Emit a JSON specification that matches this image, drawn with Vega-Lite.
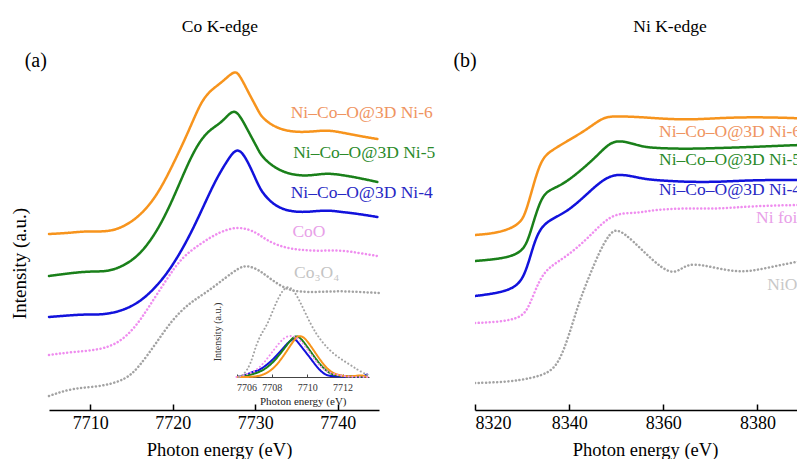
{
"$schema": "https://vega.github.io/schema/vega-lite/v6.json",
"padding": {"left": 10, "top": 17, "right": 0, "bottom": 0},
"background": "white",
"bounds": "flush",
"spacing": 96,
"config": {
  "font": "Liberation Serif",
  "view": {"stroke": null},
  "title": {"font": "Liberation Serif", "fontSize": 17.5, "fontWeight": "normal", "color": "black", "offset": 5},
  "axis": {"labelFont": "Liberation Serif", "titleFont": "Liberation Serif", "titleFontWeight": "normal", "grid": false, "labelColor": "black", "titleColor": "black", "domainColor": "black", "tickColor": "black"},
  "text": {"font": "Liberation Serif"}
},
"datasets": {
  "coMain": [
    {"s":"Ni–Co–O@3D Ni-6","E":7705.0,"v":1.76},{"s":"Ni–Co–O@3D Ni-6","E":7707.4,"v":1.77},{"s":"Ni–Co–O@3D Ni-6","E":7709.6,"v":1.79},{"s":"Ni–Co–O@3D Ni-6","E":7711.9,"v":1.78},{"s":"Ni–Co–O@3D Ni-6","E":7713.8,"v":1.82},{"s":"Ni–Co–O@3D Ni-6","E":7715.9,"v":1.93},{"s":"Ni–Co–O@3D Ni-6","E":7718.0,"v":2.13},{"s":"Ni–Co–O@3D Ni-6","E":7719.9,"v":2.43},{"s":"Ni–Co–O@3D Ni-6","E":7722.0,"v":2.80},{"s":"Ni–Co–O@3D Ni-6","E":7723.5,"v":3.10},{"s":"Ni–Co–O@3D Ni-6","E":7724.8,"v":3.21},{"s":"Ni–Co–O@3D Ni-6","E":7726.0,"v":3.28},{"s":"Ni–Co–O@3D Ni-6","E":7727.4,"v":3.39},{"s":"Ni–Co–O@3D Ni-6","E":7728.0,"v":3.37},{"s":"Ni–Co–O@3D Ni-6","E":7729.2,"v":3.17},{"s":"Ni–Co–O@3D Ni-6","E":7730.2,"v":3.02},{"s":"Ni–Co–O@3D Ni-6","E":7730.8,"v":2.92},{"s":"Ni–Co–O@3D Ni-6","E":7732.5,"v":2.82},{"s":"Ni–Co–O@3D Ni-6","E":7734.5,"v":2.78},{"s":"Ni–Co–O@3D Ni-6","E":7736.5,"v":2.78},{"s":"Ni–Co–O@3D Ni-6","E":7738.6,"v":2.80},{"s":"Ni–Co–O@3D Ni-6","E":7740.2,"v":2.78},{"s":"Ni–Co–O@3D Ni-6","E":7742.6,"v":2.74},{"s":"Ni–Co–O@3D Ni-6","E":7744.8,"v":2.71},
    {"s":"Ni–Co–O@3D Ni-5","E":7705.0,"v":1.34},{"s":"Ni–Co–O@3D Ni-5","E":7709.5,"v":1.39},{"s":"Ni–Co–O@3D Ni-5","E":7711.9,"v":1.38},{"s":"Ni–Co–O@3D Ni-5","E":7713.8,"v":1.43},{"s":"Ni–Co–O@3D Ni-5","E":7715.9,"v":1.54},{"s":"Ni–Co–O@3D Ni-5","E":7718.0,"v":1.77},{"s":"Ni–Co–O@3D Ni-5","E":7719.9,"v":2.08},{"s":"Ni–Co–O@3D Ni-5","E":7722.0,"v":2.50},{"s":"Ni–Co–O@3D Ni-5","E":7723.5,"v":2.72},{"s":"Ni–Co–O@3D Ni-5","E":7724.8,"v":2.82},{"s":"Ni–Co–O@3D Ni-5","E":7726.0,"v":2.88},{"s":"Ni–Co–O@3D Ni-5","E":7727.2,"v":3.00},{"s":"Ni–Co–O@3D Ni-5","E":7728.0,"v":2.97},{"s":"Ni–Co–O@3D Ni-5","E":7729.2,"v":2.78},{"s":"Ni–Co–O@3D Ni-5","E":7730.2,"v":2.63},{"s":"Ni–Co–O@3D Ni-5","E":7730.8,"v":2.53},{"s":"Ni–Co–O@3D Ni-5","E":7732.5,"v":2.41},{"s":"Ni–Co–O@3D Ni-5","E":7734.5,"v":2.35},{"s":"Ni–Co–O@3D Ni-5","E":7736.5,"v":2.34},{"s":"Ni–Co–O@3D Ni-5","E":7738.6,"v":2.37},{"s":"Ni–Co–O@3D Ni-5","E":7740.5,"v":2.35},{"s":"Ni–Co–O@3D Ni-5","E":7742.6,"v":2.32},{"s":"Ni–Co–O@3D Ni-5","E":7744.8,"v":2.28},
    {"s":"Ni–Co–O@3D Ni-4","E":7705.0,"v":0.93},{"s":"Ni–Co–O@3D Ni-4","E":7709.5,"v":0.96},{"s":"Ni–Co–O@3D Ni-4","E":7711.1,"v":0.95},{"s":"Ni–Co–O@3D Ni-4","E":7713.5,"v":0.98},{"s":"Ni–Co–O@3D Ni-4","E":7715.9,"v":1.07},{"s":"Ni–Co–O@3D Ni-4","E":7718.0,"v":1.23},{"s":"Ni–Co–O@3D Ni-4","E":7719.9,"v":1.43},{"s":"Ni–Co–O@3D Ni-4","E":7722.0,"v":1.73},{"s":"Ni–Co–O@3D Ni-4","E":7723.8,"v":2.05},{"s":"Ni–Co–O@3D Ni-4","E":7725.2,"v":2.30},{"s":"Ni–Co–O@3D Ni-4","E":7726.5,"v":2.48},{"s":"Ni–Co–O@3D Ni-4","E":7727.8,"v":2.64},{"s":"Ni–Co–O@3D Ni-4","E":7728.9,"v":2.52},{"s":"Ni–Co–O@3D Ni-4","E":7730.0,"v":2.32},{"s":"Ni–Co–O@3D Ni-4","E":7730.8,"v":2.17},{"s":"Ni–Co–O@3D Ni-4","E":7732.5,"v":2.03},{"s":"Ni–Co–O@3D Ni-4","E":7734.5,"v":1.98},{"s":"Ni–Co–O@3D Ni-4","E":7736.5,"v":1.98},{"s":"Ni–Co–O@3D Ni-4","E":7738.6,"v":2.00},{"s":"Ni–Co–O@3D Ni-4","E":7740.5,"v":1.98},{"s":"Ni–Co–O@3D Ni-4","E":7742.6,"v":1.96},{"s":"Ni–Co–O@3D Ni-4","E":7744.8,"v":1.93},
    {"s":"CoO","E":7705.0,"v":0.55},{"s":"CoO","E":7707.8,"v":0.58},{"s":"CoO","E":7711.1,"v":0.60},{"s":"CoO","E":7713.5,"v":0.67},{"s":"CoO","E":7715.5,"v":0.83},{"s":"CoO","E":7717.1,"v":1.03},{"s":"CoO","E":7719.2,"v":1.30},{"s":"CoO","E":7721.1,"v":1.53},{"s":"CoO","E":7723.5,"v":1.67},{"s":"CoO","E":7725.6,"v":1.78},{"s":"CoO","E":7728.0,"v":1.84},{"s":"CoO","E":7730.1,"v":1.78},{"s":"CoO","E":7731.3,"v":1.70},{"s":"CoO","E":7733.2,"v":1.63},{"s":"CoO","E":7735.3,"v":1.60},{"s":"CoO","E":7737.7,"v":1.59},{"s":"CoO","E":7740.2,"v":1.60},{"s":"CoO","E":7742.6,"v":1.57},{"s":"CoO","E":7744.8,"v":1.54},
    {"s":"Co₃O₄","E":7705.0,"v":0.14},{"s":"Co₃O₄","E":7707.8,"v":0.22},{"s":"Co₃O₄","E":7711.1,"v":0.23},{"s":"Co₃O₄","E":7714.3,"v":0.30},{"s":"Co₃O₄","E":7715.9,"v":0.43},{"s":"Co₃O₄","E":7718.0,"v":0.67},{"s":"Co₃O₄","E":7719.9,"v":0.90},{"s":"Co₃O₄","E":7722.0,"v":1.07},{"s":"Co₃O₄","E":7724.0,"v":1.17},{"s":"Co₃O₄","E":7726.5,"v":1.33},{"s":"Co₃O₄","E":7728.0,"v":1.42},{"s":"Co₃O₄","E":7729.0,"v":1.45},{"s":"Co₃O₄","E":7730.5,"v":1.40},{"s":"Co₃O₄","E":7732.0,"v":1.30},{"s":"Co₃O₄","E":7733.7,"v":1.21},{"s":"Co₃O₄","E":7735.3,"v":1.18},{"s":"Co₃O₄","E":7737.7,"v":1.18},{"s":"Co₃O₄","E":7740.2,"v":1.19},{"s":"Co₃O₄","E":7742.6,"v":1.18},{"s":"Co₃O₄","E":7745.0,"v":1.17}
  ],
  "coInset": [
    {"s":"Ni–Co–O@3D Ni-4","E":7706.05,"v":0.0},{"s":"Ni–Co–O@3D Ni-4","E":7706.6,"v":0.05},{"s":"Ni–Co–O@3D Ni-4","E":7706.9,"v":0.13},{"s":"Ni–Co–O@3D Ni-4","E":7707.2,"v":0.14},{"s":"Ni–Co–O@3D Ni-4","E":7707.75,"v":0.29},{"s":"Ni–Co–O@3D Ni-4","E":7708.3,"v":0.52},{"s":"Ni–Co–O@3D Ni-4","E":7708.8,"v":0.77},{"s":"Ni–Co–O@3D Ni-4","E":7709.2,"v":0.92},{"s":"Ni–Co–O@3D Ni-4","E":7709.35,"v":0.90},{"s":"Ni–Co–O@3D Ni-4","E":7709.75,"v":0.68},{"s":"Ni–Co–O@3D Ni-4","E":7710.2,"v":0.44},{"s":"Ni–Co–O@3D Ni-4","E":7710.6,"v":0.21},{"s":"Ni–Co–O@3D Ni-4","E":7711.0,"v":0.05},{"s":"Ni–Co–O@3D Ni-4","E":7711.35,"v":0.02},{"s":"Ni–Co–O@3D Ni-4","E":7711.9,"v":0.01},{"s":"Ni–Co–O@3D Ni-4","E":7712.5,"v":0.02},{"s":"Ni–Co–O@3D Ni-4","E":7713.05,"v":-0.01},{"s":"Ni–Co–O@3D Ni-4","E":7713.4,"v":0.06},
    {"s":"Ni–Co–O@3D Ni-5","E":7706.05,"v":0.0},{"s":"Ni–Co–O@3D Ni-5","E":7706.8,"v":0.05},{"s":"Ni–Co–O@3D Ni-5","E":7707.4,"v":0.13},{"s":"Ni–Co–O@3D Ni-5","E":7707.95,"v":0.29},{"s":"Ni–Co–O@3D Ni-5","E":7708.5,"v":0.56},{"s":"Ni–Co–O@3D Ni-5","E":7709.0,"v":0.85},{"s":"Ni–Co–O@3D Ni-5","E":7709.35,"v":1.0},{"s":"Ni–Co–O@3D Ni-5","E":7709.65,"v":0.93},{"s":"Ni–Co–O@3D Ni-5","E":7710.2,"v":0.60},{"s":"Ni–Co–O@3D Ni-5","E":7710.8,"v":0.25},{"s":"Ni–Co–O@3D Ni-5","E":7711.35,"v":0.05},{"s":"Ni–Co–O@3D Ni-5","E":7712.1,"v":0.02},{"s":"Ni–Co–O@3D Ni-5","E":7712.85,"v":0.01},{"s":"Ni–Co–O@3D Ni-5","E":7713.4,"v":0.01},
    {"s":"Ni–Co–O@3D Ni-6","E":7706.05,"v":0.0},{"s":"Ni–Co–O@3D Ni-6","E":7707.0,"v":0.0},{"s":"Ni–Co–O@3D Ni-6","E":7707.55,"v":0.05},{"s":"Ni–Co–O@3D Ni-6","E":7708.15,"v":0.21},{"s":"Ni–Co–O@3D Ni-6","E":7708.7,"v":0.52},{"s":"Ni–Co–O@3D Ni-6","E":7709.2,"v":0.85},{"s":"Ni–Co–O@3D Ni-6","E":7709.5,"v":1.0},{"s":"Ni–Co–O@3D Ni-6","E":7709.85,"v":0.95},{"s":"Ni–Co–O@3D Ni-6","E":7710.3,"v":0.68},{"s":"Ni–Co–O@3D Ni-6","E":7710.8,"v":0.36},{"s":"Ni–Co–O@3D Ni-6","E":7711.35,"v":0.09},{"s":"Ni–Co–O@3D Ni-6","E":7712.1,"v":0.01},{"s":"Ni–Co–O@3D Ni-6","E":7712.7,"v":0.02},{"s":"Ni–Co–O@3D Ni-6","E":7713.05,"v":0.05},{"s":"Ni–Co–O@3D Ni-6","E":7713.4,"v":0.0},
    {"s":"CoO","E":7706.0,"v":0.0},{"s":"CoO","E":7707.0,"v":0.1},{"s":"CoO","E":7707.6,"v":0.35},{"s":"CoO","E":7708.2,"v":0.7},{"s":"CoO","E":7708.7,"v":0.95},{"s":"CoO","E":7709.1,"v":1.0},{"s":"CoO","E":7709.6,"v":0.9},{"s":"CoO","E":7710.2,"v":0.55},{"s":"CoO","E":7710.8,"v":0.2},{"s":"CoO","E":7711.5,"v":0.05},{"s":"CoO","E":7712.5,"v":0.0},{"s":"CoO","E":7713.4,"v":0.0},
    {"s":"Co₃O₄","E":7706.15,"v":0.0},{"s":"Co₃O₄","E":7706.4,"v":0.05},{"s":"Co₃O₄","E":7706.8,"v":0.29},{"s":"Co₃O₄","E":7707.1,"v":0.76},{"s":"Co₃O₄","E":7707.45,"v":1.07},{"s":"Co₃O₄","E":7707.75,"v":1.24},{"s":"Co₃O₄","E":7708.3,"v":1.85},{"s":"Co₃O₄","E":7708.75,"v":2.15},{"s":"Co₃O₄","E":7709.1,"v":2.15},{"s":"Co₃O₄","E":7709.55,"v":1.85},{"s":"Co₃O₄","E":7710.2,"v":1.24},{"s":"Co₃O₄","E":7710.8,"v":0.84},{"s":"Co₃O₄","E":7711.55,"v":0.52},{"s":"Co₃O₄","E":7712.3,"v":0.33},{"s":"Co₃O₄","E":7712.85,"v":0.17},{"s":"Co₃O₄","E":7713.4,"v":0.05}
  ],
  "labelsA": [
    {"s":"Ni–Co–O@3D Ni-6","E":7734.3,"v":2.97},
    {"s":"Ni–Co–O@3D Ni-5","E":7734.6,"v":2.57},
    {"s":"Ni–Co–O@3D Ni-4","E":7734.3,"v":2.17},
    {"s":"CoO","E":7734.5,"v":1.78},
    {"s":"Co₃O₄","E":7734.7,"v":1.37}
  ],
  "niMain": [
    {"s":"Ni–Co–O@3D Ni-6","E":8320.0,"v":1.75},{"s":"Ni–Co–O@3D Ni-6","E":8325.1,"v":1.77},{"s":"Ni–Co–O@3D Ni-6","E":8329.4,"v":1.85},{"s":"Ni–Co–O@3D Ni-6","E":8330.8,"v":1.97},{"s":"Ni–Co–O@3D Ni-6","E":8332.5,"v":2.27},{"s":"Ni–Co–O@3D Ni-6","E":8334.2,"v":2.52},{"s":"Ni–Co–O@3D Ni-6","E":8336.4,"v":2.60},{"s":"Ni–Co–O@3D Ni-6","E":8340.0,"v":2.70},{"s":"Ni–Co–O@3D Ni-6","E":8343.6,"v":2.80},{"s":"Ni–Co–O@3D Ni-6","E":8347.0,"v":2.92},{"s":"Ni–Co–O@3D Ni-6","E":8349.1,"v":2.94},{"s":"Ni–Co–O@3D Ni-6","E":8354.9,"v":2.93},{"s":"Ni–Co–O@3D Ni-6","E":8357.6,"v":2.92},{"s":"Ni–Co–O@3D Ni-6","E":8364.8,"v":2.90},{"s":"Ni–Co–O@3D Ni-6","E":8371.9,"v":2.92},{"s":"Ni–Co–O@3D Ni-6","E":8378.9,"v":2.93},{"s":"Ni–Co–O@3D Ni-6","E":8388.4,"v":2.92},{"s":"Ni–Co–O@3D Ni-6","E":8390.1,"v":2.91},
    {"s":"Ni–Co–O@3D Ni-5","E":8320.0,"v":1.49},{"s":"Ni–Co–O@3D Ni-5","E":8325.1,"v":1.51},{"s":"Ni–Co–O@3D Ni-5","E":8328.7,"v":1.55},{"s":"Ni–Co–O@3D Ni-5","E":8330.8,"v":1.63},{"s":"Ni–Co–O@3D Ni-5","E":8332.1,"v":1.83},{"s":"Ni–Co–O@3D Ni-5","E":8334.0,"v":2.12},{"s":"Ni–Co–O@3D Ni-5","E":8335.7,"v":2.20},{"s":"Ni–Co–O@3D Ni-5","E":8338.5,"v":2.25},{"s":"Ni–Co–O@3D Ni-5","E":8342.1,"v":2.38},{"s":"Ni–Co–O@3D Ni-5","E":8345.7,"v":2.53},{"s":"Ni–Co–O@3D Ni-5","E":8348.5,"v":2.67},{"s":"Ni–Co–O@3D Ni-5","E":8351.0,"v":2.70},{"s":"Ni–Co–O@3D Ni-5","E":8354.9,"v":2.64},{"s":"Ni–Co–O@3D Ni-5","E":8357.6,"v":2.62},{"s":"Ni–Co–O@3D Ni-5","E":8364.8,"v":2.61},{"s":"Ni–Co–O@3D Ni-5","E":8371.9,"v":2.62},{"s":"Ni–Co–O@3D Ni-5","E":8378.9,"v":2.63},{"s":"Ni–Co–O@3D Ni-5","E":8388.4,"v":2.65},{"s":"Ni–Co–O@3D Ni-5","E":8390.1,"v":2.65},
    {"s":"Ni–Co–O@3D Ni-4","E":8320.0,"v":1.14},{"s":"Ni–Co–O@3D Ni-4","E":8325.1,"v":1.17},{"s":"Ni–Co–O@3D Ni-4","E":8328.9,"v":1.23},{"s":"Ni–Co–O@3D Ni-4","E":8330.8,"v":1.37},{"s":"Ni–Co–O@3D Ni-4","E":8332.5,"v":1.67},{"s":"Ni–Co–O@3D Ni-4","E":8334.2,"v":1.85},{"s":"Ni–Co–O@3D Ni-4","E":8337.2,"v":1.93},{"s":"Ni–Co–O@3D Ni-4","E":8340.0,"v":2.00},{"s":"Ni–Co–O@3D Ni-4","E":8343.6,"v":2.15},{"s":"Ni–Co–O@3D Ni-4","E":8347.0,"v":2.30},{"s":"Ni–Co–O@3D Ni-4","E":8350.2,"v":2.37},{"s":"Ni–Co–O@3D Ni-4","E":8354.9,"v":2.32},{"s":"Ni–Co–O@3D Ni-4","E":8357.6,"v":2.30},{"s":"Ni–Co–O@3D Ni-4","E":8364.8,"v":2.28},{"s":"Ni–Co–O@3D Ni-4","E":8371.9,"v":2.28},{"s":"Ni–Co–O@3D Ni-4","E":8378.9,"v":2.30},{"s":"Ni–Co–O@3D Ni-4","E":8388.4,"v":2.30},{"s":"Ni–Co–O@3D Ni-4","E":8390.1,"v":2.30},
    {"s":"Ni foil","E":8320.0,"v":0.87},{"s":"Ni foil","E":8325.1,"v":0.88},{"s":"Ni foil","E":8329.8,"v":0.92},{"s":"Ni foil","E":8331.5,"v":1.03},{"s":"Ni foil","E":8333.6,"v":1.30},{"s":"Ni foil","E":8335.7,"v":1.43},{"s":"Ni foil","E":8339.3,"v":1.53},{"s":"Ni foil","E":8343.6,"v":1.70},{"s":"Ni foil","E":8347.0,"v":1.87},{"s":"Ni foil","E":8350.0,"v":1.97},{"s":"Ni foil","E":8354.9,"v":1.97},{"s":"Ni foil","E":8357.6,"v":2.00},{"s":"Ni foil","E":8364.8,"v":2.02},{"s":"Ni foil","E":8371.9,"v":2.01},{"s":"Ni foil","E":8378.9,"v":2.04},{"s":"Ni foil","E":8388.4,"v":2.05},{"s":"Ni foil","E":8390.1,"v":2.05},
    {"s":"NiO","E":8320.0,"v":0.27},{"s":"NiO","E":8327.2,"v":0.28},{"s":"NiO","E":8332.1,"v":0.32},{"s":"NiO","E":8335.7,"v":0.37},{"s":"NiO","E":8337.9,"v":0.48},{"s":"NiO","E":8340.0,"v":0.75},{"s":"NiO","E":8342.1,"v":1.08},{"s":"NiO","E":8344.2,"v":1.33},{"s":"NiO","E":8346.4,"v":1.58},{"s":"NiO","E":8348.5,"v":1.76},{"s":"NiO","E":8350.2,"v":1.82},{"s":"NiO","E":8353.4,"v":1.70},{"s":"NiO","E":8357.6,"v":1.50},{"s":"NiO","E":8361.7,"v":1.35},{"s":"NiO","E":8364.0,"v":1.42},{"s":"NiO","E":8366.1,"v":1.47},{"s":"NiO","E":8371.2,"v":1.42},{"s":"NiO","E":8376.7,"v":1.37},{"s":"NiO","E":8381.8,"v":1.42},{"s":"NiO","E":8388.2,"v":1.48},{"s":"NiO","E":8390.1,"v":1.50}
  ],
  "labelsB": [
    {"s":"Ni–Co–O@3D Ni-6","E":8359.1,"v":2.78},
    {"s":"Ni–Co–O@3D Ni-5","E":8359.1,"v":2.50},
    {"s":"Ni–Co–O@3D Ni-4","E":8359.1,"v":2.20},
    {"s":"Ni foil","E":8379.7,"v":1.92},
    {"s":"NiO","E":8382.1,"v":1.25}
  ]
},
"hconcat": [
  {
    "width": 330, "height": 370,
    "title": {"text": "Co K-edge", "dx": 6, "font": "Liberation Serif"},
    "resolve": {"scale": {"x": "independent", "y": "independent"}},
    "layer": [
      {"layer": [
        {"data": {"name": "coMain"},
         "mark": {"type": "line", "interpolate": "basis", "strokeWidth": 2.5, "strokeCap": "round"},
         "encoding": {
           "x": {"field": "E", "type": "quantitative", "scale": {"domain": [7705, 7745], "nice": false, "zero": false},
                 "axis": {"values": [7710, 7720, 7730, 7740], "format": "d", "tickSize": -6, "tickWidth": 1.5, "domainWidth": 1.5, "labelFont": "Liberation Serif", "labelFontSize": 18, "labelPadding": 10, "title": "Photon energy (eV)", "titleFont": "Liberation Serif", "titleFontSize": 18.5, "titlePadding": 8, "titleX": 170}},
           "y": {"field": "v", "type": "quantitative", "scale": {"domain": [0, 3.7], "nice": false, "zero": false},
                 "axis": {"title": "Intensity (a.u.)", "titleFont": "Liberation Serif", "domain": false, "ticks": false, "labels": false, "titleFontSize": 19, "titlePadding": 20, "titleY": 223}},
           "stroke": {"field": "s", "type": "nominal", "legend": null,
                      "scale": {"domain": ["Ni–Co–O@3D Ni-6","Ni–Co–O@3D Ni-5","Ni–Co–O@3D Ni-4","CoO","Co₃O₄","Ni foil","NiO"],
                                "range": ["#f7941d","#1a801a","#1212dc","#ef8def","#a3a3a3","#ef8def","#a3a3a3"]}},
           "strokeDash": {"field": "s", "type": "nominal", "legend": null,
                      "scale": {"domain": ["Ni–Co–O@3D Ni-6","Ni–Co–O@3D Ni-5","Ni–Co–O@3D Ni-4","CoO","Co₃O₄","Ni foil","NiO"],
                                "range": [[1,0],[1,0],[1,0],[0.1,3.6],[0.1,3.6],[0.1,3.6],[0.1,3.6]]}}
         }},
        {"data": {"name": "labelsA"},
         "mark": {"type": "text", "align": "left", "baseline": "middle", "fontSize": 17.5, "font": "Liberation Serif"},
         "encoding": {
           "x": {"field": "E", "type": "quantitative"},
           "y": {"field": "v", "type": "quantitative"},
           "text": {"field": "s"},
           "fill": {"field": "s", "type": "nominal", "legend": null,
                    "scale": {"domain": ["Ni–Co–O@3D Ni-6","Ni–Co–O@3D Ni-5","Ni–Co–O@3D Ni-4","CoO","Co₃O₄","Ni foil","NiO"],
                              "range": ["#ef9461","#2a8a2a","#2828c4","#e8a0e8","#c4c4c4","#e8a0e8","#c8c8c8"]}}
         }},
        {"data": {"values": [{"t": "(a)", "E": 7703.4, "v": 3.49}]},
         "mark": {"type": "text", "align": "center", "baseline": "middle", "fontSize": 20, "color": "black", "font": "Liberation Serif"},
         "encoding": {
           "x": {"field": "E", "type": "quantitative"},
           "y": {"field": "v", "type": "quantitative"},
           "text": {"field": "t"}
         }}
      ]},
      {"layer": [
        {"data": {"name": "coInset"},
         "mark": {"type": "line", "interpolate": "basis", "strokeWidth": 2, "strokeCap": "round"},
         "encoding": {
           "x": {"field": "E", "type": "quantitative", "scale": {"domain": [7706, 7713.5], "range": [187.5, 320], "nice": false, "zero": false},
                 "axis": {"orient": "bottom", "offset": -33, "values": [7706, 7708, 7710, 7712], "format": "d", "tickSize": -3, "labelFont": "Liberation Serif", "labelFontSize": 10, "labelPadding": 8, "labelColor": "#333333", "domainColor": "#444444", "tickColor": "#444444", "title": "Photon energy (eV)", "titleFont": "Liberation Serif", "titleFontSize": 11, "titlePadding": 3, "titleColor": "#222222"}},
           "y": {"field": "v", "type": "quantitative", "scale": {"domain": [0, 2.5], "range": [337, 232], "nice": false, "zero": false}, "axis": null},
           "stroke": {"field": "s", "type": "nominal", "legend": null,
                      "scale": {"domain": ["Ni–Co–O@3D Ni-6","Ni–Co–O@3D Ni-5","Ni–Co–O@3D Ni-4","CoO","Co₃O₄","Ni foil","NiO"],
                                "range": ["#f7941d","#1a801a","#1212dc","#ef8def","#a3a3a3","#ef8def","#a3a3a3"]}},
           "strokeDash": {"field": "s", "type": "nominal", "legend": null,
                      "scale": {"domain": ["Ni–Co–O@3D Ni-6","Ni–Co–O@3D Ni-5","Ni–Co–O@3D Ni-4","CoO","Co₃O₄","Ni foil","NiO"],
                                "range": [[1,0],[1,0],[1,0],[0.1,3.6],[0.1,3.6],[0.1,3.6],[0.1,3.6]]}}
         }},
        {"data": {"values": [{"t": "Intensity (a.u.)", "E": 7704.95, "v": 1.07}]},
         "mark": {"type": "text", "angle": 270, "align": "center", "baseline": "middle", "fontSize": 10, "color": "#333333", "font": "Liberation Serif"},
         "encoding": {
           "x": {"field": "E", "type": "quantitative"},
           "y": {"field": "v", "type": "quantitative"},
           "text": {"field": "t"}
         }}
      ]}
    ]
  },
  {
    "width": 322, "height": 370,
    "title": {"text": "Ni K-edge", "dx": 34, "font": "Liberation Serif"},
    "layer": [
      {"data": {"name": "niMain"},
       "mark": {"type": "line", "interpolate": "basis", "strokeWidth": 2.5, "strokeCap": "round", "clip": true},
       "encoding": {
         "x": {"field": "E", "type": "quantitative", "scale": {"domain": [8320, 8388.4], "nice": false, "zero": false},
               "axis": {"values": [8320, 8340, 8360, 8380], "format": "d", "tickSize": -6, "tickWidth": 1.5, "domainWidth": 1.5, "labelFont": "Liberation Serif", "labelFontSize": 18, "labelPadding": 10, "title": "Photon energy (eV)", "titleFont": "Liberation Serif", "titleFontSize": 18.5, "titlePadding": 8, "titleX": 170}},
         "y": {"field": "v", "type": "quantitative", "scale": {"domain": [0, 3.7], "nice": false, "zero": false}, "axis": null},
         "stroke": {"field": "s", "type": "nominal", "legend": null,
                    "scale": {"domain": ["Ni–Co–O@3D Ni-6","Ni–Co–O@3D Ni-5","Ni–Co–O@3D Ni-4","CoO","Co₃O₄","Ni foil","NiO"],
                              "range": ["#f7941d","#1a801a","#1212dc","#ef8def","#a3a3a3","#ef8def","#a3a3a3"]}},
         "strokeDash": {"field": "s", "type": "nominal", "legend": null,
                    "scale": {"domain": ["Ni–Co–O@3D Ni-6","Ni–Co–O@3D Ni-5","Ni–Co–O@3D Ni-4","CoO","Co₃O₄","Ni foil","NiO"],
                              "range": [[1,0],[1,0],[1,0],[0.1,3.6],[0.1,3.6],[0.1,3.6],[0.1,3.6]]}}
       }},
      {"data": {"name": "labelsB"},
       "mark": {"type": "text", "align": "left", "baseline": "middle", "fontSize": 17.5, "clip": true, "font": "Liberation Serif"},
       "encoding": {
         "x": {"field": "E", "type": "quantitative"},
         "y": {"field": "v", "type": "quantitative"},
         "text": {"field": "s"},
         "fill": {"field": "s", "type": "nominal", "legend": null,
                  "scale": {"domain": ["Ni–Co–O@3D Ni-6","Ni–Co–O@3D Ni-5","Ni–Co–O@3D Ni-4","CoO","Co₃O₄","Ni foil","NiO"],
                            "range": ["#ef9461","#2a8a2a","#2828c4","#e8a0e8","#c4c4c4","#e8a0e8","#c8c8c8"]}}
       }},
      {"data": {"values": [{"t": "(b)", "E": 8317.9, "v": 3.49}]},
       "mark": {"type": "text", "align": "center", "baseline": "middle", "fontSize": 20, "color": "black", "font": "Liberation Serif"},
       "encoding": {
         "x": {"field": "E", "type": "quantitative"},
         "y": {"field": "v", "type": "quantitative"},
         "text": {"field": "t"}
       }}
    ]
  }
]
}
